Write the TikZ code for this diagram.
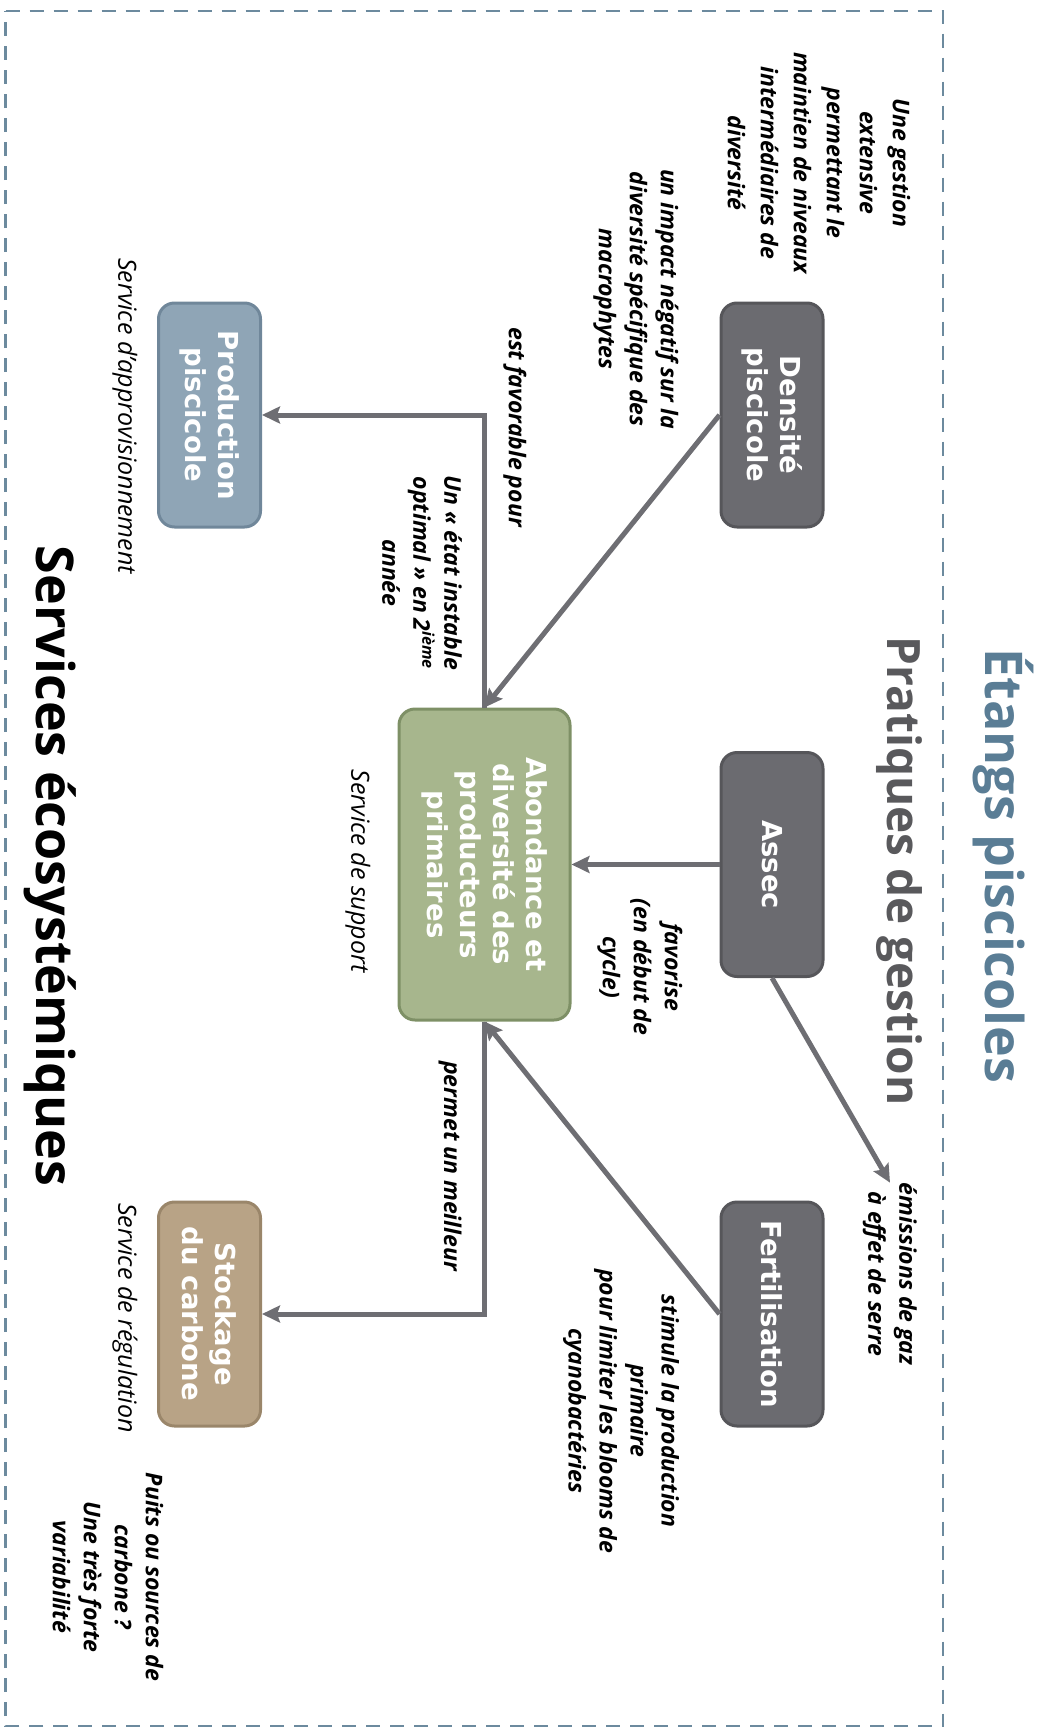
\documentclass[tikz,border=0pt]{standalone}
\usepackage{fontspec}
\setmainfont{Open Sans}
\newfontfamily\boxfont{DejaVu Sans}
\newfontfamily\headfont{Open Sans}
\usetikzlibrary{positioning}
\usetikzlibrary{arrows.meta}

\definecolor{grisBoite}{HTML}{6B6B70}
\definecolor{grisBord}{HTML}{56565A}
\definecolor{vertBoite}{HTML}{A7B68D}
\definecolor{vertBord}{HTML}{7E9066}
\definecolor{bleuBoite}{HTML}{8FA5B6}
\definecolor{bleuBord}{HTML}{70879A}
\definecolor{beigeBoite}{HTML}{B8A386}
\definecolor{beigeBord}{HTML}{9A866A}
\definecolor{grisFleche}{HTML}{6E6E73}
\definecolor{bleuCadre}{HTML}{6C8A9E}
\definecolor{bleuTitre}{HTML}{5A7D95}
\definecolor{grisTitre}{HTML}{59595C}

\begin{document}
\begin{tikzpicture}[x=1pt, y=1pt, rotate=-90, transform shape,
  boite/.style={rectangle, rounded corners=16pt, line width=3pt, text=white,
    font={\boxfont\bfseries\fontsize{27.5}{33}\selectfont}, align=center,
    minimum width=224pt, minimum height=102pt, inner sep=0pt},
  pratique/.style={boite, fill=grisBoite, draw=grisBord},
  fleche/.style={-{Stealth[length=18pt, width=17pt, inset=3pt]}, line width=5pt, draw=grisFleche},
  etiquette/.style={align=center, inner sep=0pt, font={\bfseries\itshape\fontsize{23}{31}\selectfont}},
  legende/.style={inner sep=0pt, font={\itshape\fontsize{25}{30}\selectfont}}]
\def\rowP{772}
\def\rowS{209.5}

\useasboundingbox (0,0) rectangle (1729,1042);
\draw[bleuCadre, line width=2.5pt, dash pattern=on 14pt off 10pt] (11,5.5) rectangle (1726,943);

% titres
\node[text=bleuTitre, font={\headfont\bfseries\fontsize{52}{60}\selectfont}] (titre) at (866,1003) {Étangs piscicoles};
\node[text=grisTitre, font={\headfont\bfseries\fontsize{46}{54}\selectfont}] (sousTitre) at (871,899) {Pratiques de gestion};
\node[text=black, font={\headfont\bfseries\fontsize{52}{60}\selectfont}] (services) at (866,50) {Services écosystémiques};

% pratiques
\node[pratique] (densite) at (415,\rowP) {Densité\\piscicole};
\node[pratique] (assec) at (864.5,\rowP) {Assec};
\node[pratique] (fertil) at (1314,\rowP) {Fertilisation};

% services
\node[boite, fill=vertBoite, draw=vertBord, minimum width=311pt, minimum height=171pt] (abond) at (864.5,484.5)
  {Abondance et\\diversité des\\producteurs\\primaires};
\node[boite, fill=bleuBoite, draw=bleuBord] (prod) at (415,\rowS) {Production\\piscicole};
\node[boite, fill=beigeBoite, draw=beigeBord] (stock) at (1314,\rowS) {Stockage\\du carbone};

\node[legende] (svcAppro) at (416,125) {Service d'approvisionnement};
\node[legende] (svcSupport) at (871,358) {Service de support};
\node[legende] (svcRegul) at (1318,125) {Service de régulation};

% etiquettes
\node[etiquette, font={\bfseries\itshape\fontsize{23}{33}\selectfont}] (lblGestion) at (163,819)
  {Une gestion\\extensive\\permettant le\\maintien de niveaux\\intermédiaires de\\diversité};
\node[etiquette] (lblImpact) at (299,636) {un impact négatif sur la\\diversité spécifique des\\macrophytes};
\node[etiquette] (lblFavorable) at (427,515) {est favorable pour};
\node[etiquette] (lblEtat) at (573,422) {Un «~état instable\\optimal~» en 2\textsuperscript{ième}\\année};
\node[etiquette] (lblFavorise) at (967,640) {favorise\\(en début de\\cycle)};
\node[etiquette] (emis) at (1274,890) {émissions de gaz\\à effet de serre};
\node[etiquette] (lblStimule) at (1411,621) {stimule la production\\primaire\\pour limiter les blooms de\\cyanobactéries};
\node[etiquette] (lblPermet) at (1166,450) {permet un meilleur};
\node[etiquette] (lblPuits) at (1577,108) {Puits ou sources de\\carbone ?\\Une très forte\\variabilité};

% fleches
\draw[fleche] (densite.south) -- (abond.west);
\draw[fleche] (assec.south) -- (abond.north);
\draw[fleche] (fertil.south) -- (abond.east);
\draw[fleche] (assec.east) -- (emis.west);
\draw[fleche] (abond.west) -| (prod.north);
\draw[fleche] (abond.east) -| (stock.north);

\end{tikzpicture}
\end{document}
